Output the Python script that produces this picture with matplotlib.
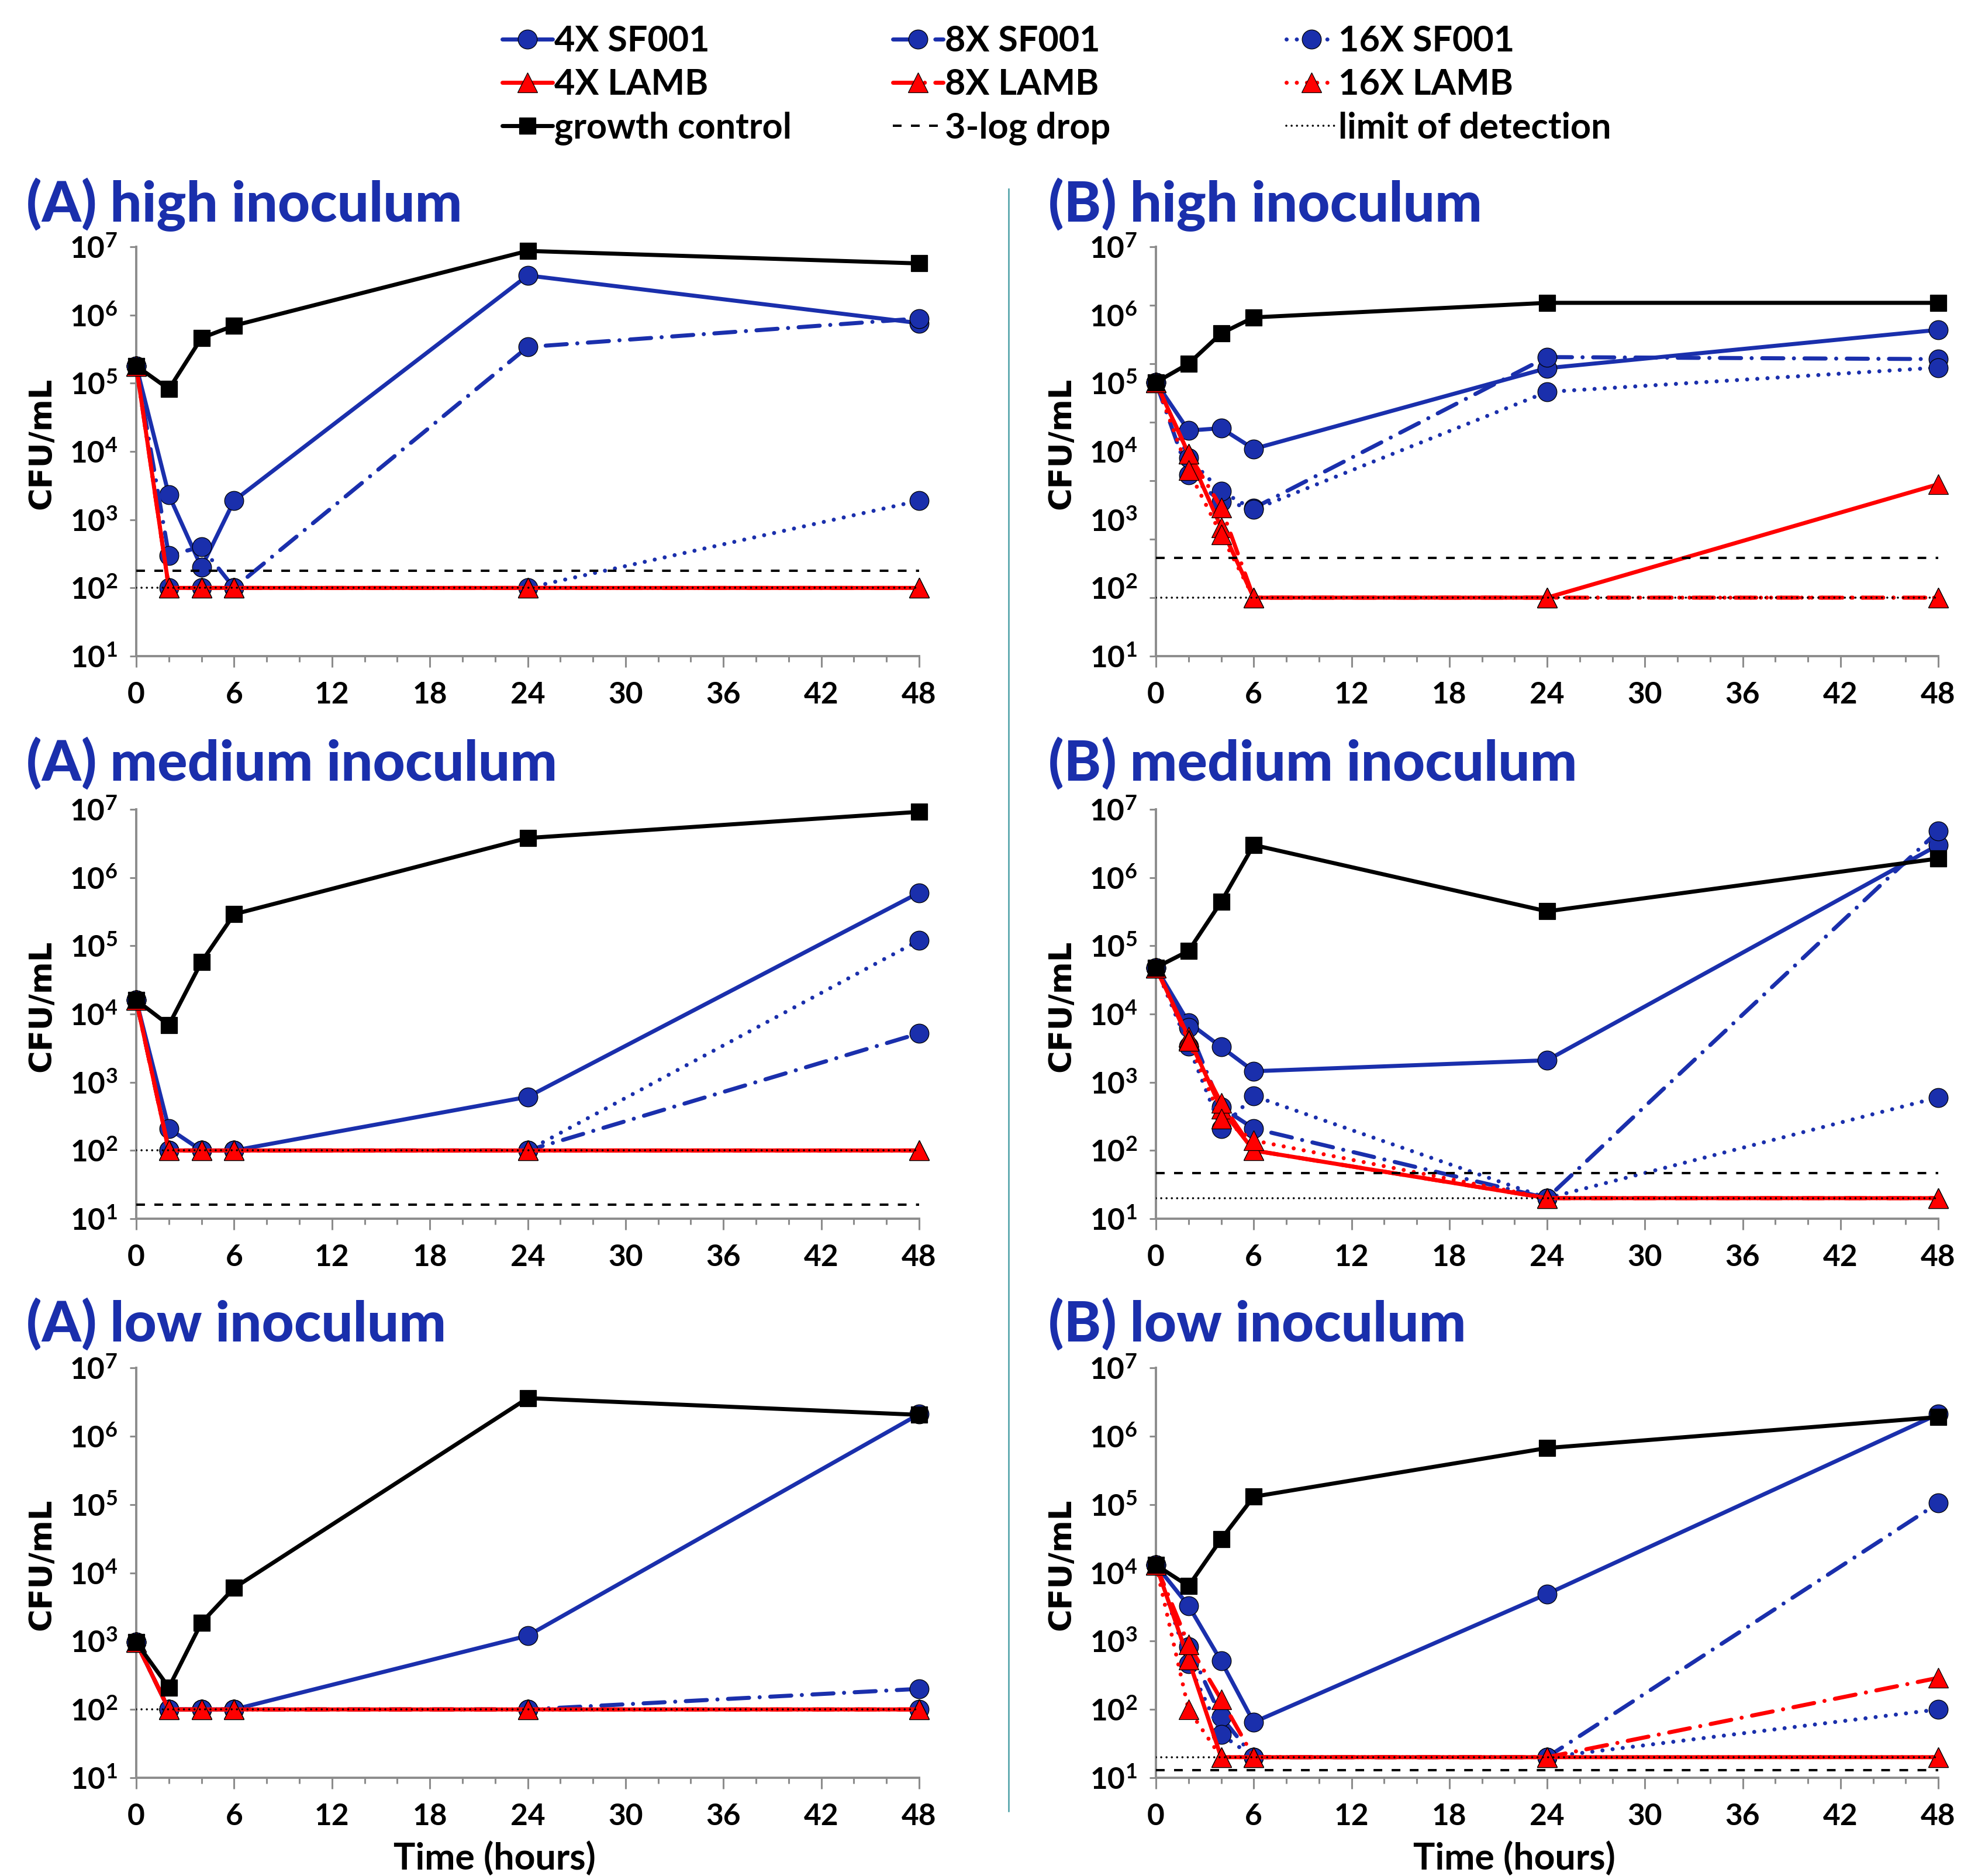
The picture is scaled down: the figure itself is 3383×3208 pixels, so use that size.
import matplotlib
matplotlib.use('Agg')
import matplotlib.pyplot as plt
from matplotlib.lines import Line2D
from matplotlib.ticker import FixedLocator, FixedFormatter, NullLocator, NullFormatter

plt.rcParams['font.family'] = ['Lato', 'DejaVu Sans']
plt.rcParams['mathtext.fontset'] = 'custom'
plt.rcParams['mathtext.rm'] = 'Lato:bold'
plt.rcParams['mathtext.it'] = 'Lato:bold'
plt.rcParams['mathtext.bf'] = 'Lato:bold'
plt.rcParams['mathtext.default'] = 'rm'

# ---------------- data ----------------
times = [0, 2, 4, 6, 24, 48]
x_major_ticks = [0, 6, 12, 18, 24, 30, 36, 42, 48]
x_minor_ticks = list(range(0, 49, 2))
y_exponents = [1, 2, 3, 4, 5, 6, 7]
b_high_tick_exponents = [0, 1, 2, 3, 4, 5, 6, 7]
b_high_label_exponents = [7, 6, 5, 4, 3, 2, 1]

series_labels = ['4X SF001', '8X SF001', '16X SF001', '4X LAMB', '8X LAMB', '16X LAMB', 'growth control']
ref_labels = ['3-log drop', 'limit of detection']
panel_titles = ['(A) high inoculum', '(B) high inoculum',
                '(A) medium inoculum', '(B) medium inoculum',
                '(A) low inoculum', '(B) low inoculum']

# (A) high inoculum
a_high_sf4 = [1.8e5, 2.3e3, 2.0e2, 1.9e3, 3.8e6, 7.6e5]
a_high_sf8 = [1.8e5, 3.0e2, 4.0e2, 1.0e2, 3.4e5, 8.9e5]
a_high_sf16 = [1.8e5, 1.0e2, 1.0e2, 1.0e2, 1.0e2, 1.9e3]
a_high_lamb4 = [1.8e5, 1.0e2, 1.0e2, 1.0e2, 1.0e2, 1.0e2]
a_high_lamb8 = [1.8e5, 1.0e2, 1.0e2, 1.0e2, 1.0e2, 1.0e2]
a_high_lamb16 = [1.8e5, 1.0e2, 1.0e2, 1.0e2, 1.0e2, 1.0e2]
a_high_gc = [1.8e5, 8.2e4, 4.6e5, 7.0e5, 8.7e6, 5.7e6]
a_high_drop = 1.8e2
a_high_lod = 1.0e2

# (B) high inoculum
b_high_sf4 = [4.8e4, 7.2e3, 7.9e3, 3.5e3, 8.4e4, 3.8e5]
b_high_sf8 = [4.8e4, 1.25e3, 4.4e2, 3.4e2, 1.3e5, 1.2e5]
b_high_sf16 = [4.8e4, 2.45e3, 6.6e2, 3.2e2, 3.3e4, 8.6e4]
b_high_lamb4 = [4.8e4, 2.9e3, 1.6e2, 1.0e1, 1.0e1, 8.7e2]
b_high_lamb8 = [4.8e4, 2.9e3, 3.5e2, 1.0e1, 1.0e1, 1.0e1]
b_high_lamb16 = [4.8e4, 1.5e3, 1.2e2, 1.0e1, 1.0e1, 1.0e1]
b_high_gc = [4.8e4, 1.0e5, 3.3e5, 6.2e5, 1.1e6, 1.1e6]
b_high_drop = 4.8e1
b_high_lod = 1.0e1

# (A) medium inoculum
a_med_sf4 = [1.6e4, 2.1e2, 1.0e2, 1.0e2, 6.1e2, 6.0e5]
a_med_sf8 = [1.6e4, 1.0e2, 1.0e2, 1.0e2, 1.0e2, 5.2e3]
a_med_sf16 = [1.6e4, 1.0e2, 1.0e2, 1.0e2, 1.0e2, 1.2e5]
a_med_lamb4 = [1.6e4, 1.0e2, 1.0e2, 1.0e2, 1.0e2, 1.0e2]
a_med_lamb8 = [1.6e4, 1.0e2, 1.0e2, 1.0e2, 1.0e2, 1.0e2]
a_med_lamb16 = [1.6e4, 1.0e2, 1.0e2, 1.0e2, 1.0e2, 1.0e2]
a_med_gc = [1.6e4, 6.9e3, 5.8e4, 2.9e5, 3.8e6, 9.2e6]
a_med_drop = 1.6e1
a_med_lod = 1.0e2

# (B) medium inoculum
b_med_sf4 = [4.8e4, 7.5e3, 3.3e3, 1.45e3, 2.1e3, 3.0e6]
b_med_sf8 = [4.8e4, 6.3e3, 4.3e2, 2.1e2, 2.0e1, 4.8e6]
b_med_sf16 = [4.8e4, 3.4e3, 2.1e2, 6.3e2, 2.0e1, 6.0e2]
b_med_lamb4 = [4.8e4, 4.6e3, 4.1e2, 1.0e2, 2.0e1, 2.0e1]
b_med_lamb8 = [4.8e4, 4.2e3, 5.0e2, 1.0e2, 2.0e1, 2.0e1]
b_med_lamb16 = [4.8e4, 4.0e3, 2.9e2, 1.4e2, 2.0e1, 2.0e1]
b_med_gc = [4.8e4, 8.4e4, 4.4e5, 3.0e6, 3.2e5, 1.9e6]
b_med_drop = 4.7e1
b_med_lod = 2.0e1

# (A) low inoculum
a_low_sf4 = [9.6e2, 1.0e2, 1.0e2, 1.0e2, 1.2e3, 2.1e6]
a_low_sf8 = [9.6e2, 1.0e2, 1.0e2, 1.0e2, 1.0e2, 2.0e2]
a_low_sf16 = [9.6e2, 1.0e2, 1.0e2, 1.0e2, 1.0e2, 1.0e2]
a_low_lamb4 = [9.6e2, 1.0e2, 1.0e2, 1.0e2, 1.0e2, 1.0e2]
a_low_lamb8 = [9.6e2, 1.0e2, 1.0e2, 1.0e2, 1.0e2, 1.0e2]
a_low_lamb16 = [9.6e2, 1.0e2, 1.0e2, 1.0e2, 1.0e2, 1.0e2]
a_low_gc = [9.6e2, 2.1e2, 1.86e3, 6.0e3, 3.6e6, 2.05e6]
a_low_drop = 9.6e-1
a_low_lod = 1.0e2

# (B) low inoculum
b_low_sf4 = [1.3e4, 3.3e3, 5.1e2, 6.5e1, 4.9e3, 2.1e6]
b_low_sf8 = [1.3e4, 8.2e2, 7.8e1, 2.0e1, 2.0e1, 1.05e5]
b_low_sf16 = [1.3e4, 4.7e2, 4.3e1, 2.0e1, 2.0e1, 1.0e2]
b_low_lamb4 = [1.3e4, 5.4e2, 2.0e1, 2.0e1, 2.0e1, 2.0e1]
b_low_lamb8 = [1.3e4, 8.9e2, 1.4e2, 2.0e1, 2.0e1, 2.9e2]
b_low_lamb16 = [1.3e4, 1.0e2, 2.0e1, 2.0e1, 2.0e1, 2.0e1]
b_low_gc = [1.3e4, 6.4e3, 3.1e4, 1.3e5, 6.7e5, 1.9e6]
b_low_drop = 1.3e1
b_low_lod = 2.0e1

panels = [
    [a_high_sf4, a_high_sf8, a_high_sf16, a_high_lamb4, a_high_lamb8, a_high_lamb16, a_high_gc, a_high_drop, a_high_lod],
    [b_high_sf4, b_high_sf8, b_high_sf16, b_high_lamb4, b_high_lamb8, b_high_lamb16, b_high_gc, b_high_drop, b_high_lod],
    [a_med_sf4, a_med_sf8, a_med_sf16, a_med_lamb4, a_med_lamb8, a_med_lamb16, a_med_gc, a_med_drop, a_med_lod],
    [b_med_sf4, b_med_sf8, b_med_sf16, b_med_lamb4, b_med_lamb8, b_med_lamb16, b_med_gc, b_med_drop, b_med_lod],
    [a_low_sf4, a_low_sf8, a_low_sf16, a_low_lamb4, a_low_lamb8, a_low_lamb16, a_low_gc, a_low_drop, a_low_lod],
    [b_low_sf4, b_low_sf8, b_low_sf16, b_low_lamb4, b_low_lamb8, b_low_lamb16, b_low_gc, b_low_drop, b_low_lod],
]

# ---------------- styling ----------------
W, H, DPI = 3383, 3208, 100
BLUE = '#1a2fac'
RED = '#ff0000'
GRAY = '#8c8c8c'
LW = 5.0
SOLID = '-'
DASHDOT = (0, (5.2, 2.6, 0.01, 2.6))
DOTTED = (0, (0.01, 2.5))

styles = [
    dict(color=BLUE, ls=SOLID, marker='o', ms=23.5),
    dict(color=BLUE, ls=DASHDOT, marker='o', ms=23.5),
    dict(color=BLUE, ls=DOTTED, marker='o', ms=23.5),
    dict(color=RED, ls=SOLID, marker='^', ms=24.5),
    dict(color=RED, ls=DASHDOT, marker='^', ms=24.5),
    dict(color=RED, ls=DOTTED, marker='^', ms=24.5),
    dict(color='black', ls=SOLID, marker='s', ms=20),
]
DROP_STYLE = dict(color='black', lw=2.9, ls=(0, (3.7, 4.0)))
LOD_STYLE = dict(color='black', lw=2.6, ls=(0, (0.01, 2.5)), dash_capstyle='round')

col_left = [233, 1977]
col_right = [1572, 3315]
row_top = [422, 1384, 2339]
row_bot = [1122, 2084, 3040]
title_x = [45, 1793]
title_y = [350, 1305, 2264]

fig = plt.figure(figsize=(W / DPI, H / DPI), dpi=DPI)

axes = []
for idx, data in enumerate(panels):
    r, c = divmod(idx, 2)
    l, rr, t, b = col_left[c], col_right[c], row_top[r], row_bot[r]
    ax = fig.add_axes([l / W, 1 - b / H, (rr - l) / W, (b - t) / H])
    axes.append(ax)
    ax.set_yscale('log')
    b_high = (idx == 1)
    ax.set_xlim(0, 48)
    ax.set_ylim(1 if b_high else 10, 1e7)

    for k in range(7):
        st = styles[k]
        ax.plot(times, data[k], color=st['color'], linestyle=st['ls'], lw=LW,
                marker=st['marker'], markersize=st['ms'], markerfacecolor=st['color'],
                markeredgecolor='black', markeredgewidth=0.9,
                dash_capstyle='round', solid_capstyle='round', clip_on=False, zorder=3 + k * 0.1)
    ax.axhline(data[7], zorder=5, **DROP_STYLE)
    ax.axhline(data[8], zorder=5, **LOD_STYLE)

    for side in ['top', 'right']:
        ax.spines[side].set_visible(False)
    for side in ['left', 'bottom']:
        ax.spines[side].set_color(GRAY)
        ax.spines[side].set_linewidth(2.8)

    ax.xaxis.set_major_locator(FixedLocator(x_major_ticks))
    ax.xaxis.set_major_formatter(FixedFormatter([str(v) for v in x_major_ticks]))
    ax.xaxis.set_minor_locator(FixedLocator(x_minor_ticks))
    ax.tick_params(axis='x', which='major', length=13.7, width=2.2, color=GRAY, pad=17,
                   labelsize=37, direction='out')
    ax.tick_params(axis='x', which='minor', length=7, width=2.2, color=GRAY, direction='out')

    if b_high:
        ax.yaxis.remove_overlapping_locs = False
        ax.yaxis.set_major_locator(FixedLocator([10.0 ** e for e in b_high_tick_exponents]))
        ax.yaxis.set_major_formatter(NullFormatter())
        top_e = max(b_high_tick_exponents)
        span = (max(b_high_tick_exponents) - min(b_high_tick_exponents)) / (len(b_high_label_exponents) - 1)
        pos = [10.0 ** (top_e - i * span) for i in range(len(b_high_label_exponents))]
        pairs = sorted(zip(pos, b_high_label_exponents))
        ax.yaxis.set_minor_locator(FixedLocator([p for p, _ in pairs]))
        ax.yaxis.set_minor_formatter(FixedFormatter([r'$10^{%d}$' % e for _, e in pairs]))
        ax.tick_params(axis='y', which='major', length=8, width=2.2, color=GRAY)
        ax.tick_params(axis='y', which='minor', length=0, pad=23, labelsize=37)
    else:
        ax.yaxis.set_major_locator(FixedLocator([10.0 ** e for e in y_exponents]))
        ax.yaxis.set_major_formatter(FixedFormatter([r'$10^{%d}$' % e for e in y_exponents]))
        ax.yaxis.set_minor_locator(NullLocator())
        ax.tick_params(axis='y', which='major', length=8, width=2.2, color=GRAY, pad=15,
                       labelsize=37)
    for lab in ax.get_xticklabels() + ax.get_yticklabels(which='both'):
        lab.set_fontweight('bold')

    ax.set_ylabel('CFU/mL', fontfamily='DejaVu Sans', fontweight='bold', fontsize=38, va='center')
    ax.yaxis.set_label_coords(-0.121, 0.52)
    if r == 2:
        ax.set_xlabel('Time (hours)', fontweight='bold', fontsize=45, va='center')
        ax.xaxis.set_label_coords(0.458, -138 / 700)

    fig.text(title_x[c] / W, 1 - title_y[r] / H, panel_titles[idx], color=BLUE,
             fontsize=69, fontweight='black', ha='left', va='center')

# separator line
fig.add_artist(Line2D([1725 / W, 1725 / W], [1 - 323 / H, 1 - 3097 / H], color='#4a9fa5', lw=1.8))

# legend (three columns)
def proxy(k):
    st = styles[k]
    return Line2D([], [], color=st['color'], linestyle=st['ls'], lw=LW, marker=st['marker'],
                  markersize=st['ms'], markerfacecolor=st['color'], markeredgecolor='black',
                  markeredgewidth=0.9, dash_capstyle='round', solid_capstyle='round')

drop_h = Line2D([], [], **DROP_STYLE)
lod_h = Line2D([], [], **LOD_STYLE)
columns = [
    ([proxy(0), proxy(3), proxy(6)], [series_labels[0], series_labels[3], series_labels[6]]),
    ([proxy(1), proxy(4), drop_h], [series_labels[1], series_labels[4], ref_labels[0]]),
    ([proxy(2), proxy(5), lod_h], [series_labels[2], series_labels[5], ref_labels[1]]),
]
leg_x = [859, 1527, 2200]
for (hs, ls), lx in zip(columns, leg_x):
    fig.legend(hs, ls, loc='upper left', bbox_to_anchor=(lx / W, 1 - 42 / H), frameon=False,
               handlelength=1.4, handletextpad=0.05, labelspacing=0.30, borderpad=0,
               borderaxespad=0, prop=dict(family='Lato', weight='bold', size=44))

fig.savefig('out.png', dpi=DPI)
